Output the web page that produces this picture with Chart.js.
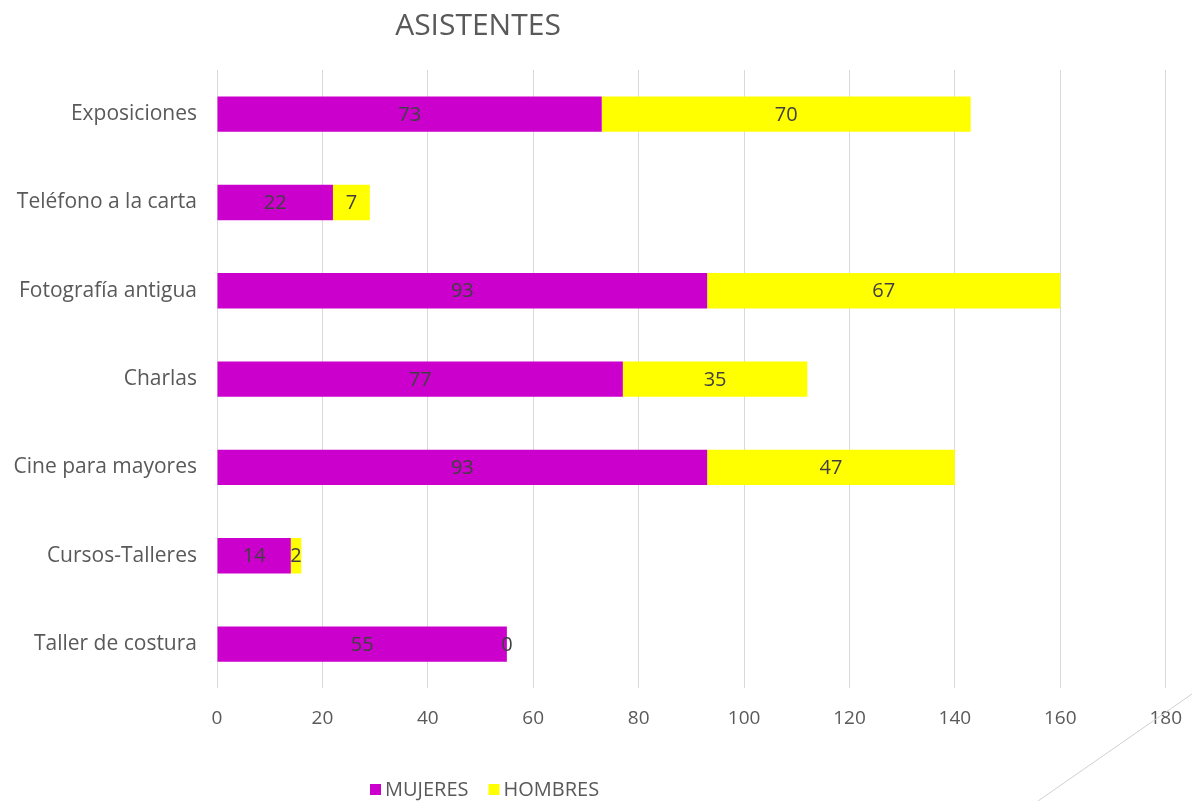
<!DOCTYPE html>
<html>
<head>
<meta charset="utf-8">
<script src="https://cdn.jsdelivr.net/npm/chart.js@4"></script>
<style>
  html, body { margin: 0; padding: 0; background: #ffffff; }
  #wrap { width: 1192px; height: 801px; position: relative; }
</style>
</head>
<body>
<div id="wrap"><canvas id="bar-chart-asistentes"></canvas></div>
<script>
const categories = [
  "Exposiciones",
  "Teléfono a la carta",
  "Fotografía antigua",
  "Charlas",
  "Cine para mayores",
  "Cursos-Talleres",
  "Taller de costura",
];
const mujeres = [73, 22, 93, 77, 93, 14, 55];
const hombres = [70, 7, 67, 35, 47, 2, 0];
const xTicks = [0, 20, 40, 60, 80, 100, 120, 140, 160, 180];

const FONT = "'Open Sans', Lato, sans-serif";
const GREY = "#595959";

// values in the middle of each bar piece
const barLabels = {
  id: "barLabels",
  afterDatasetsDraw(chart) {
    const ctx = chart.ctx;
    ctx.save();
    ctx.font = "20px " + FONT;
    ctx.fillStyle = "#404040";
    ctx.textAlign = "center";
    ctx.textBaseline = "middle";
    chart.data.datasets.forEach((ds, i) => {
      chart.getDatasetMeta(i).data.forEach((bar, j) => {
        const mid = (bar.x + bar.base) / 2;
        ctx.fillText(String(ds.data[j]), mid, bar.y + 1);
      });
    });
    ctx.restore();
  },
};

// title and legend sit left of centre in the original slide
const extras = {
  id: "extras",
  afterDraw(chart) {
    const ctx = chart.ctx;
    ctx.save();
    ctx.fillStyle = GREY;
    ctx.font = "30px " + FONT;
    ctx.textAlign = "center";
    ctx.textBaseline = "middle";
    ctx.fillText("ASISTENTES", 478, 26);

    ctx.font = "20px " + FONT;
    ctx.textAlign = "left";
    let x = 370;
    chart.data.datasets.forEach((ds) => {
      ctx.fillStyle = ds.backgroundColor;
      ctx.fillRect(x, 784, 11, 11);
      ctx.fillStyle = GREY;
      ctx.fillText(ds.label, x + 15, 790);
      x += 15 + ctx.measureText(ds.label).width + 20;
    });

    // slide decoration in the corner
    ctx.strokeStyle = "#d0d0d0";
    ctx.lineWidth = 1;
    ctx.beginPath();
    ctx.moveTo(1038, 801);
    ctx.lineTo(1192, 694);
    ctx.stroke();
    ctx.restore();
  },
};

new Chart(document.getElementById("bar-chart-asistentes"), {
  type: "bar",
  data: {
    labels: categories,
    datasets: [
      { label: "MUJERES", data: mujeres, backgroundColor: "#CC00CC" },
      { label: "HOMBRES", data: hombres, backgroundColor: "#FFFF00" },
    ],
  },
  plugins: [barLabels, extras],
  options: {
    indexAxis: "y",
    responsive: true,
    maintainAspectRatio: false,
    animation: false,
    categoryPercentage: 1,
    barPercentage: 0.4,
    layout: { padding: { top: 70, right: 0, bottom: 61, left: 0 } },
    plugins: {
      legend: { display: false },
      title: { display: false },
      tooltip: { enabled: false },
    },
    scales: {
      x: {
        stacked: true,
        min: 0,
        max: 180,
        afterBuildTicks: (scale) => {
          scale.ticks = xTicks.map((v) => ({ value: v }));
        },
        grid: { color: "#d9d9d9", lineWidth: 1, drawTicks: true, tickLength: 9, tickColor: "rgba(0,0,0,0)" },
        border: { display: false },
        ticks: { color: GREY, font: { family: FONT, size: 19 }, padding: 10 },
      },
      y: {
        stacked: true,
        afterFit: (scale) => { scale.width = 217; },
        grid: { display: false },
        border: { display: false },
        ticks: { color: GREY, font: { family: FONT, size: 21 }, padding: 12 },
      },
    },
  },
});
</script>
</body>
</html>
